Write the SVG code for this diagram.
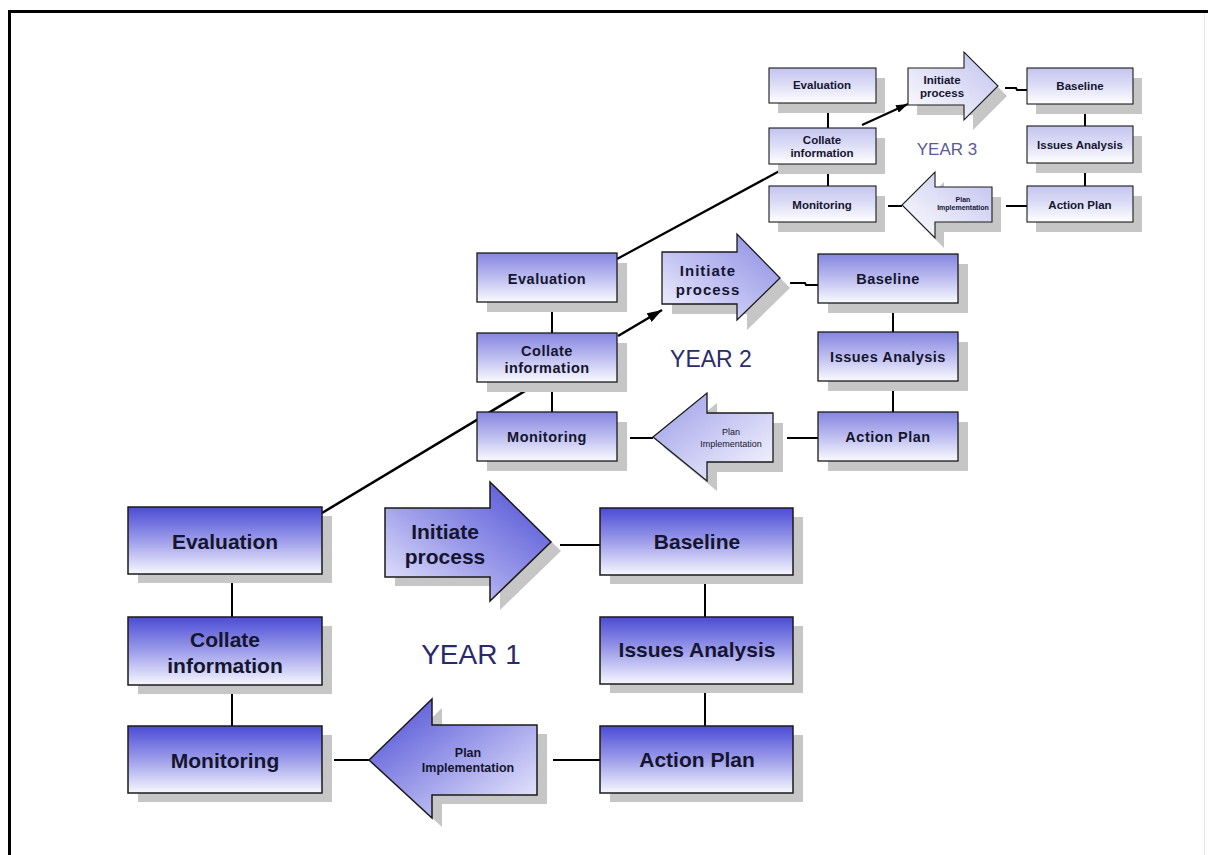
<svg xmlns="http://www.w3.org/2000/svg" width="1208" height="855" viewBox="0 0 1208 855">
<defs>
<linearGradient id="g1" x1="0" y1="0" x2="0" y2="1"><stop offset="0" stop-color="#4b4bd6"/><stop offset="0.5" stop-color="#9d9dea"/><stop offset="1" stop-color="#f7f7ff"/></linearGradient>
<linearGradient id="g2" x1="0" y1="0" x2="0" y2="1"><stop offset="0" stop-color="#8585e0"/><stop offset="0.5" stop-color="#bdbdf0"/><stop offset="1" stop-color="#fafaff"/></linearGradient>
<linearGradient id="g3" x1="0" y1="0" x2="0" y2="1"><stop offset="0" stop-color="#c4c4ef"/><stop offset="0.5" stop-color="#dedef7"/><stop offset="1" stop-color="#ffffff"/></linearGradient>
<linearGradient id="ai1" x1="1" y1="0" x2="0" y2="1"><stop offset="0" stop-color="#4848d4"/><stop offset="0.55" stop-color="#9d9dea"/><stop offset="1" stop-color="#eeeeff"/></linearGradient>
<linearGradient id="ap1" x1="0" y1="0" x2="1" y2="1"><stop offset="0" stop-color="#4848d4"/><stop offset="0.55" stop-color="#a5a5ec"/><stop offset="1" stop-color="#f2f2ff"/></linearGradient>
<linearGradient id="ai2" x1="1" y1="0" x2="0" y2="1"><stop offset="0" stop-color="#8a8ae2"/><stop offset="0.55" stop-color="#c0c0f2"/><stop offset="1" stop-color="#f6f6ff"/></linearGradient>
<linearGradient id="ap2" x1="0" y1="0" x2="1" y2="1"><stop offset="0" stop-color="#9a9ae6"/><stop offset="0.55" stop-color="#cfcff5"/><stop offset="1" stop-color="#f8f8ff"/></linearGradient>
<linearGradient id="ai3" x1="1" y1="0" x2="0" y2="1"><stop offset="0" stop-color="#c0c0ee"/><stop offset="1" stop-color="#ffffff"/></linearGradient>
<marker id="ah" markerWidth="6" markerHeight="4" refX="6" refY="2" orient="auto" markerUnits="strokeWidth"><path d="M0,0 L6,2 L0,4 Z" fill="#000"/></marker>
<style>
.sh{fill:#c6c6c6}
.b1{fill:url(#g1);stroke:#1a1a1a;stroke-width:1.5}
.b2{fill:url(#g2);stroke:#1a1a1a;stroke-width:1.3}
.b3{fill:url(#g3);stroke:#1a1a1a;stroke-width:1.1}
.t{font-family:"Liberation Sans",Arial,sans-serif;font-weight:bold;fill:#15152f;text-anchor:middle}
.t1{font-size:21px}
.t2{font-size:14.5px;letter-spacing:0.5px}
.t3{font-size:11.5px}
.tn{font-weight:normal}
.c{stroke:#000;fill:none}
.yr{font-family:"Liberation Sans",Arial,sans-serif;text-anchor:middle}
</style>
</defs>
<rect x="0" y="0" width="1208" height="855" fill="#ffffff"/>
<g id="frame">
<line x1="8" y1="11.5" x2="1208" y2="11.5" stroke="#000" stroke-width="3"/>
<line x1="9.5" y1="10" x2="9.5" y2="855" stroke="#000" stroke-width="3"/>
<line x1="1204.5" y1="13" x2="1204.5" y2="855" stroke="#e4e4e4" stroke-width="1"/>
</g>
<g id="connectors">
<g stroke-width="2" class="c">
<line x1="232" y1="574" x2="232" y2="617"/>
<line x1="232" y1="685" x2="232" y2="726"/>
<line x1="705" y1="576" x2="705" y2="617"/>
<line x1="705" y1="683" x2="705" y2="726"/>
<line x1="560" y1="545" x2="600" y2="545"/>
<line x1="553" y1="760" x2="600" y2="760"/>
<line x1="334" y1="760" x2="369" y2="760"/>
<line x1="552" y1="302" x2="552" y2="333"/>
<line x1="552" y1="382" x2="552" y2="412"/>
<line x1="893" y1="303" x2="893" y2="332"/>
<line x1="893" y1="381" x2="893" y2="412"/>
<polyline points="790,283 805,283 806,285 818,285"/>
<line x1="787" y1="438" x2="818" y2="438"/>
<line x1="630" y1="438" x2="653" y2="438"/>
<line x1="828" y1="103" x2="828" y2="128"/>
<line x1="828" y1="164" x2="828" y2="186"/>
<line x1="1085" y1="104" x2="1085" y2="126"/>
<line x1="1085" y1="163" x2="1085" y2="186"/>
<polyline points="1005,88 1016,88 1017,90 1027,90"/>
<line x1="1006" y1="206" x2="1027" y2="206"/>
<line x1="888" y1="206" x2="902" y2="206"/>
</g>
<line class="c" stroke-width="2.5" x1="322" y1="513" x2="535" y2="385"/>
<line class="c" stroke-width="2.2" x1="617" y1="259" x2="785" y2="168"/>
<line class="c" stroke-width="2.5" x1="618" y1="336" x2="662" y2="310" marker-end="url(#ah)"/>
<line class="c" stroke-width="2" x1="862" y1="125" x2="908" y2="104" marker-end="url(#ah)"/>
</g>
<g id="y1-evaluation"><rect class="sh" x="138" y="516" width="194" height="67"/><rect class="b1" x="128" y="507" width="194" height="67"/><text class="t t1" x="225" y="549">Evaluation</text></g>
<g id="y1-collate"><rect class="sh" x="138" y="626" width="194" height="68"/><rect class="b1" x="128" y="617" width="194" height="68"/><text class="t t1" x="225" y="647">Collate</text><text class="t t1" x="225" y="673">information</text></g>
<g id="y1-monitoring"><rect class="sh" x="138" y="735" width="194" height="67"/><rect class="b1" x="128" y="726" width="194" height="67"/><text class="t t1" x="225" y="768">Monitoring</text></g>
<g id="y1-baseline"><rect class="sh" x="610" y="517" width="193" height="67"/><rect class="b1" x="600" y="508" width="193" height="67"/><text class="t t1" x="697" y="549">Baseline</text></g>
<g id="y1-issues"><rect class="sh" x="610" y="626" width="193" height="67"/><rect class="b1" x="600" y="617" width="193" height="67"/><text class="t t1" x="697" y="657">Issues Analysis</text></g>
<g id="y1-action"><rect class="sh" x="610" y="735" width="193" height="67"/><rect class="b1" x="600" y="726" width="193" height="67"/><text class="t t1" x="697" y="767">Action Plan</text></g>
<g id="y1-initiate"><polygon class="sh" points="395,517 500,517 500,491 561,551 500,610 500,586 395,586"/><polygon fill="url(#ai1)" stroke="#1a1a1a" stroke-width="1.5" points="385,508 490,508 490,482 551,542 490,601 490,577 385,577"/><text class="t t1" x="445" y="539">Initiate</text><text class="t t1" x="445" y="564">process</text></g>
<g id="y1-plan"><polygon class="sh" points="547,734 442,734 442,708 379,769 442,827 442,804 547,804"/><polygon fill="url(#ap1)" stroke="#1a1a1a" stroke-width="1.5" points="537,725 432,725 432,699 369,760 432,818 432,795 537,795"/><text class="t" font-size="12.5" x="468" y="757">Plan</text><text class="t" font-size="12.5" x="468" y="772">Implementation</text></g>
<g id="y2-evaluation"><rect class="sh" x="487" y="263" width="140" height="49"/><rect class="b2" x="477" y="253" width="140" height="49"/><text class="t t2" x="547" y="284">Evaluation</text></g>
<g id="y2-collate"><rect class="sh" x="487" y="343" width="140" height="49"/><rect class="b2" x="477" y="333" width="140" height="49"/><text class="t t2" x="547" y="356">Collate</text><text class="t t2" x="547" y="373">information</text></g>
<g id="y2-monitoring"><rect class="sh" x="487" y="422" width="140" height="49"/><rect class="b2" x="477" y="412" width="140" height="49"/><text class="t t2" x="547" y="442">Monitoring</text></g>
<g id="y2-baseline"><rect class="sh" x="828" y="264" width="140" height="49"/><rect class="b2" x="818" y="254" width="140" height="49"/><text class="t t2" x="888" y="284">Baseline</text></g>
<g id="y2-issues"><rect class="sh" x="828" y="342" width="140" height="49"/><rect class="b2" x="818" y="332" width="140" height="49"/><text class="t t2" x="888" y="362">Issues Analysis</text></g>
<g id="y2-action"><rect class="sh" x="828" y="422" width="140" height="49"/><rect class="b2" x="818" y="412" width="140" height="49"/><text class="t t2" x="888" y="442">Action Plan</text></g>
<g id="y2-initiate"><polygon class="sh" points="672,262 747,262 747,244 790,288 747,330 747,314 672,314"/><polygon fill="url(#ai2)" stroke="#1a1a1a" stroke-width="1.3" points="662,252 737,252 737,234 780,278 737,320 737,304 662,304"/><text class="t" font-size="15" letter-spacing="1" x="708" y="276">Initiate</text><text class="t" font-size="15" letter-spacing="1" x="708" y="295">process</text></g>
<g id="y2-plan"><polygon class="sh" points="783,423 717,423 717,403 663,447 717,491 717,472 783,472"/><polygon fill="url(#ap2)" stroke="#1a1a1a" stroke-width="1.3" points="773,413 707,413 707,393 653,437 707,481 707,462 773,462"/><text class="t tn" font-size="9" x="731" y="435">Plan</text><text class="t tn" font-size="9" x="731" y="447">Implementation</text></g>
<g id="y3-evaluation"><rect class="sh" x="778" y="78" width="107" height="35"/><rect class="b3" x="769" y="68" width="107" height="35"/><text class="t t3" x="822" y="89">Evaluation</text></g>
<g id="y3-collate"><rect class="sh" x="778" y="138" width="107" height="36"/><rect class="b3" x="769" y="128" width="107" height="36"/><text class="t t3" x="822" y="144">Collate</text><text class="t t3" x="822" y="157">information</text></g>
<g id="y3-monitoring"><rect class="sh" x="778" y="196" width="107" height="36"/><rect class="b3" x="769" y="186" width="107" height="36"/><text class="t t3" x="822" y="209">Monitoring</text></g>
<g id="y3-baseline"><rect class="sh" x="1036" y="78" width="106" height="36"/><rect class="b3" x="1027" y="68" width="106" height="36"/><text class="t t3" x="1080" y="90">Baseline</text></g>
<g id="y3-issues"><rect class="sh" x="1036" y="136" width="106" height="37"/><rect class="b3" x="1027" y="126" width="106" height="37"/><text class="t t3" x="1080" y="149">Issues Analysis</text></g>
<g id="y3-action"><rect class="sh" x="1036" y="196" width="106" height="36"/><rect class="b3" x="1027" y="186" width="106" height="36"/><text class="t t3" x="1080" y="209">Action Plan</text></g>
<g id="y3-initiate"><polygon class="sh" points="917,78 973,78 973,62 1007,96 973,130 973,115 917,115"/><polygon fill="url(#ai3)" stroke="#1a1a1a" stroke-width="1.1" points="908,68 964,68 964,52 998,86 964,120 964,105 908,105"/><text class="t t3" x="942" y="84">Initiate</text><text class="t t3" x="942" y="97">process</text></g>
<g id="y3-plan"><polygon class="sh" points="1001,197 944,197 944,182 911,215 944,248 944,232 1001,232"/><polygon fill="url(#ai3)" stroke="#1a1a1a" stroke-width="1.1" points="992,187 935,187 935,172 902,205 935,238 935,222 992,222"/><text class="t" font-size="7" x="963" y="202">Plan</text><text class="t" font-size="7" x="963" y="210">Implementation</text></g>
<g id="labels">
<text class="yr" x="471" y="664" font-size="28" fill="#29296c">YEAR 1</text>
<text class="yr" x="711" y="367" font-size="23" fill="#2c2c6c">YEAR 2</text>
<text class="yr" x="947" y="155" font-size="17" fill="#5a5a96">YEAR 3</text>
</g>
</svg>
